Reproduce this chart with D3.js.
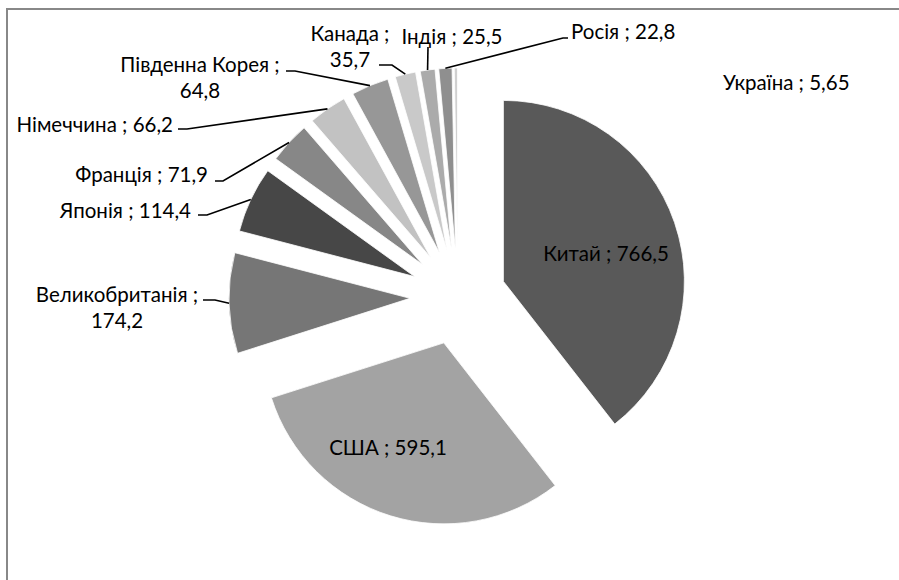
<!DOCTYPE html>
<html>
<head>
<meta charset="utf-8">
<script src="https://cdn.jsdelivr.net/npm/d3@7"></script>
<style>
  body { margin: 0; background: #fff; }
  svg text { font-family: Lato, "Open Sans", sans-serif; font-size: 20.5px; fill: #000; }
</style>
</head>
<body>
<div id="piechart"></div>
<script>
// ----- Exploded pie -----

const countries = ["Китай", "США", "Великобританія", "Японія", "Франція", "Німеччина",
    "Південна Корея", "Канада", "Індія", "Росія", "Україна"];
const values = [766.5, 595.1, 174.2, 114.4, 71.9, 66.2, 64.8, 35.7, 25.5, 22.8, 5.65];
const valueLabels = ["766,5", "595,1", "174,2", "114,4", "71,9", "66,2", "64,8", "35,7", "25,5", "22,8", "5,65"];

const width = 899
const height = 580
const center = { x: 458, y: 297 };
const radius = 181;
const explode = 48;

const shades = ["#595959", "#a3a3a3", "#767676", "#474747", "#878787", "#c2c2c2",
    "#979797", "#c9c9c9", "#ababab", "#8f8f8f", "#d0d0d0"];

// where Excel left each label (line breaks, anchor, baseline) and its leader elbow
const labelLayout = [
    { breakAfter: null, x: 606, y: 261, anchor: "middle" },
    { breakAfter: null, x: 388, y: 455, anchor: "middle" },
    { breakAfter: true, x: 117, y: 302, anchor: "middle", leader: [[203, 300], [215, 300]] },
    { breakAfter: null, x: 191, y: 218, anchor: "end", leader: [[198, 215], [207, 215]] },
    { breakAfter: null, x: 208, y: 182, anchor: "end", leader: [[215, 181], [223, 181]] },
    { breakAfter: null, x: 173, y: 132, anchor: "end", leader: [[178, 129], [187, 129]] },
    { breakAfter: true, x: 200, y: 72, anchor: "middle", leader: [[286, 71], [295, 71]] },
    { breakAfter: true, x: 350, y: 41, anchor: "middle", leader: [[379, 65], [392, 65]] },
    { breakAfter: null, x: 452, y: 44, anchor: "middle", leader: [[428, 47]] },
    { breakAfter: null, x: 571, y: 39, anchor: "start", leader: [[568, 38], [563, 38]] },
    { breakAfter: null, x: 723, y: 90, anchor: "start" }
];

const svg = d3.select("#piechart")
    .append("svg")
    .attr("width", width)
    .attr("height", height);

// chart frame
svg.append("rect")
    .attr("x", 7)
    .attr("y", 9)
    .attr("width", width)
    .attr("height", height)
    .style("fill", "none")
    .style("stroke", "#888")
    .style("stroke-width", 2);

const pie = d3.pie().sort(null).value(d => d)(values);
const arc = d3.arc().innerRadius(0).outerRadius(radius);

const mid = d => (d.startAngle + d.endAngle) / 2;
const shift = d => [explode * Math.sin(mid(d)), -explode * Math.cos(mid(d))];

const g = svg.append("g")
    .attr("transform", `translate(${center.x},${center.y})`);

g.selectAll(".slice")
    .data(pie)
    .enter().append("path")
    .attr("class", "slice")
    .attr("transform", d => `translate(${shift(d)[0]},${shift(d)[1]})`)
    .attr("d", arc)
    .style("fill", (d, i) => shades[i])
    .style("stroke", "#fff")
    .style("stroke-width", 0.8);

// leader lines: from label elbow to the middle of the slice's outer edge
const leaderLine = d3.line();
pie.forEach((d, i) => {
    const lay = labelLayout[i];
    if (!lay.leader) return;
    const s = shift(d);
    const tip = [center.x + s[0] + radius * Math.sin(mid(d)), center.y + s[1] - radius * Math.cos(mid(d))];
    svg.append("path")
        .attr("d", leaderLine(lay.leader.concat([tip])))
        .style("fill", "none")
        .style("stroke", "#000")
        .style("stroke-width", 1.6);
});

// labels: "name ; value", optionally broken after the semicolon
labelLayout.forEach((lay, i) => {
    const lines = lay.breakAfter
        ? [`${countries[i]} ;`, valueLabels[i]]
        : [`${countries[i]} ; ${valueLabels[i]}`];
    const t = svg.append("text")
        .attr("text-anchor", lay.anchor);
    lines.forEach((ln, k) => {
        t.append("tspan")
            .attr("x", lay.x)
            .attr("y", lay.y + k * 26)
            .text(ln);
    });
});
</script>
</body>
</html>
